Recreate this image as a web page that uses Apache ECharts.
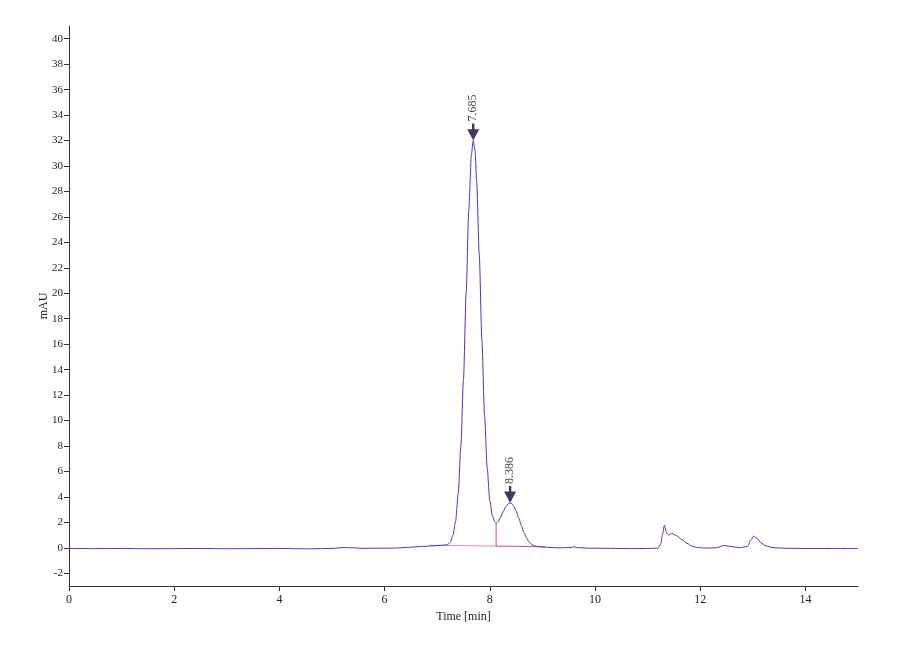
<!DOCTYPE html>
<html>
<head>
<meta charset="utf-8">
<script src="https://cdn.jsdelivr.net/npm/echarts@6/dist/echarts.min.js"></script>
<style>html,body{margin:0;padding:0;background:#fff}#c{width:900px;height:660px}</style>
</head>
<body>
<div id="c"></div>
<script>
// Chromatogram trace (time in min, signal in mAU)
var traceTimes = [0.0,0.5,1.0,1.5,2.0,2.5,3.0,3.5,4.0,4.5,5.0,5.2,5.4,5.6,5.9,6.2,6.5,6.7,6.9,7.1,7.2,
  7.25,7.30,7.35,7.40,7.45,7.50,7.55,7.60,7.65,7.685,7.72,7.75,7.80,7.85,7.90,7.95,8.00,8.05,8.10,8.12,
  8.15,8.20,8.25,8.30,8.35,8.386,8.42,8.45,8.50,8.55,8.60,8.65,8.70,8.75,8.80,8.85,8.95,9.1,9.3,9.55,9.6,
  9.65,9.9,10.3,10.7,11.0,11.2,11.25,11.28,11.32,11.36,11.40,11.46,11.55,11.65,11.75,11.85,11.95,12.1,
  12.3,12.45,12.55,12.75,12.9,12.96,13.02,13.08,13.15,13.25,13.4,13.7,14.0,14.5,15.0];
var traceValues = [-0.05,-0.06,-0.05,-0.07,-0.06,-0.05,-0.07,-0.06,-0.05,-0.08,-0.05,0.02,0.0,-0.04,-0.03,-0.02,0.05,0.1,0.15,0.2,0.25,
  0.45,1.0,2.1,4.3,8.0,13.3,20.0,26.5,30.9,32.0,31.2,28.8,23.0,16.3,10.4,6.3,3.7,2.5,2.0,1.92,
  2.0,2.35,2.8,3.2,3.45,3.53,3.47,3.3,2.9,2.35,1.75,1.2,0.75,0.45,0.25,0.15,0.08,0.04,0.0,0.02,0.08,
  0.02,-0.03,-0.04,-0.06,-0.05,-0.03,0.3,1.0,1.78,1.2,1.0,1.13,0.95,0.65,0.35,0.12,0.02,-0.02,
  0.0,0.18,0.12,0.02,0.1,0.6,0.92,0.75,0.4,0.15,0.0,-0.04,-0.05,-0.05,-0.05];

// Integration baselines and drop line
var baseLeftTimes = [6.85, 8.12];
var baseLeftValues = [0.2, 0.14];
var baseRightTimes = [8.12, 9.05];
var baseRightValues = [0.14, 0.08];
var dropTimes = [8.12, 8.12];
var dropValues = [0.14, 1.92];

// Peak annotations
var peakTimes = [7.685, 8.386];
var peakHeights = [32.0, 3.53];
var peakLabels = ['7.685', '8.386'];

// Axis ticks
var xTicks = [0,2,4,6,8,10,12,14];
var yTicks = [-2,0,2,4,6,8,10,12,14,16,18,20,22,24,26,28,30,32,34,36,38,40];

function pairs(xs, ys){ return xs.map(function(x,i){ return [x, ys[i]]; }); }

var font = 'Liberation Serif';
var axisCol = '#333333';
var chart = echarts.init(document.getElementById('c'), null, {renderer:'canvas'});
chart.setOption({
  animation: false,
  backgroundColor: '#ffffff',
  grid: {left: 69, right: 42, top: 26, bottom: 74, containLabel: false},
  xAxis: {
    type: 'value', min: 0, max: 15,
    name: 'Time [min]', nameLocation: 'middle', nameGap: 25, nameMoveOverlap: false,
    nameTextStyle: {fontFamily: font, fontSize: 12, color: '#222'},
    axisLine: {show: true, onZero: false, lineStyle: {color: axisCol, width: 1}},
    axisTick: {show: true, length: 5, customValues: xTicks, lineStyle: {color: axisCol}},
    axisLabel: {fontFamily: font, fontSize: 12, color: '#222', margin: 8, customValues: xTicks},
    splitLine: {show: false}
  },
  yAxis: {
    type: 'value', min: -3, max: 41,
    name: 'mAU', nameLocation: 'middle', nameGap: 19, nameRotate: 90, nameMoveOverlap: false,
    nameTextStyle: {fontFamily: font, fontSize: 12, color: '#222'},
    axisLine: {show: true, onZero: false, lineStyle: {color: axisCol, width: 1}},
    axisTick: {show: true, length: 5, customValues: yTicks, lineStyle: {color: axisCol}},
    axisLabel: {fontFamily: font, fontSize: 11, color: '#222', margin: 6, customValues: yTicks},
    splitLine: {show: false}
  },
  series: [
    {type: 'line', data: pairs(baseLeftTimes, baseLeftValues), symbol: 'none',
     lineStyle: {color: '#f28ab8', width: 1}, z: 2},
    {type: 'line', data: pairs(baseRightTimes, baseRightValues), symbol: 'none',
     lineStyle: {color: '#e0408a', width: 1}, z: 2},
    {type: 'line', data: pairs(dropTimes, dropValues), symbol: 'none',
     lineStyle: {color: '#e0408a', width: 1}, z: 2},
    {type: 'line', data: pairs(traceTimes, traceValues), symbol: 'none',
     smooth: 0.25, smoothMonotone: 'x',
     lineStyle: {color: '#3a3acf', width: 1}, z: 3},
    {type: 'scatter', z: 5,
     data: pairs(peakTimes, peakHeights).map(function(p, i){ return {value: p, name: peakLabels[i]}; }),
     symbol: 'path://M4,0 L6,0 L6,5 L10,5 L5,15 L0,5 L4,5 Z',
     symbolSize: [12, 17], symbolOffset: [0, '-50%'],
     itemStyle: {color: '#0a0a3a'},
     label: {show: true, position: 'top', distance: 2, rotate: 90, align: 'left', verticalAlign: 'middle',
       formatter: function(p){ return p.name; },
       fontFamily: font, fontSize: 12, color: '#111'}
    }
  ]
});
</script>
</body>
</html>
